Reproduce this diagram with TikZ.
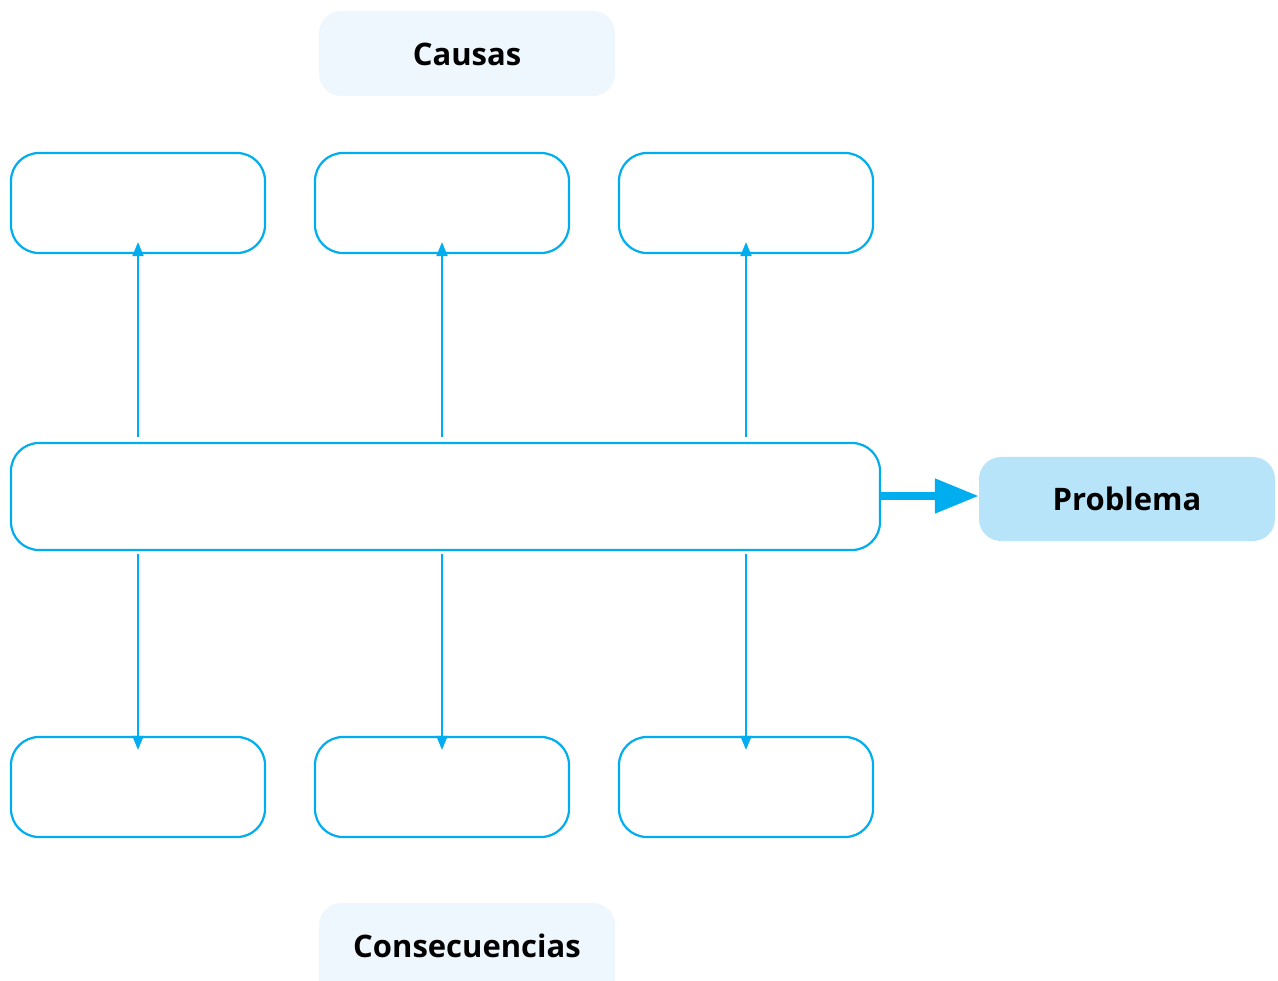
\documentclass[tikz,border=0pt]{standalone}
\usepackage{fontspec}
\setmainfont{Open Sans}
\usetikzlibrary{arrows.meta}
\definecolor{cline}{HTML}{00AEEF}
\definecolor{lightfill}{HTML}{EEF7FD}
\definecolor{probfill}{HTML}{B8E4F9}
\tikzset{
  x=1pt,y=-1pt,
  emptybox/.style={draw=cline,line width=2.2pt,rounded corners=28pt,fill=white},
  labelfont/.style={font=\fontsize{31}{36}\selectfont\bfseries},
  conn/.style={draw=cline,line width=2pt,-{Triangle[length=14pt,width=11pt]}},
}
\begin{document}
\begin{tikzpicture}
\useasboundingbox (0,0) rectangle (1278,981);
% label boxes
\fill[lightfill,rounded corners=22pt] (319,11) rectangle (615,96);
\node[labelfont] (causas) at (467,54) {Causas};
\begin{scope}
\clip (0,0) rectangle (1278,981);
\fill[lightfill,rounded corners=22pt] (319,903) rectangle (615,1005);
\end{scope}
\node[labelfont] (consec) at (467,946) {Consecuencias};
% top boxes
\node[emptybox,minimum width=254pt,minimum height=100pt] (t1) at (138,203) {};
\node[emptybox,minimum width=254pt,minimum height=100pt] (t2) at (442,203) {};
\node[emptybox,minimum width=254pt,minimum height=100pt] (t3) at (746,203) {};
% bottom boxes
\node[emptybox,minimum width=254pt,minimum height=100pt] (b1) at (138,787) {};
\node[emptybox,minimum width=254pt,minimum height=100pt] (b2) at (442,787) {};
\node[emptybox,minimum width=254pt,minimum height=100pt] (b3) at (746,787) {};
% central
\node[emptybox,minimum width=869pt,minimum height=107pt] (mid) at (445.5,496.5) {};
% problem
\node[fill=probfill,rounded corners=22pt,minimum width=296pt,minimum height=84pt,labelfont] (prob) at (1127,499) {Problema};
% connectors
\coordinate (m1t) at ([yshift=5pt]mid.north -| t1);
\coordinate (m2t) at ([yshift=5pt]mid.north -| t2);
\coordinate (m3t) at ([yshift=5pt]mid.north -| t3);
\coordinate (m1b) at ([yshift=-3pt]mid.south -| b1);
\coordinate (m2b) at ([yshift=-3pt]mid.south -| b2);
\coordinate (m3b) at ([yshift=-3pt]mid.south -| b3);
\draw[conn] (m1t) -- ([yshift=12pt]t1.south);
\draw[conn] (m2t) -- ([yshift=12pt]t2.south);
\draw[conn] (m3t) -- ([yshift=12pt]t3.south);
\draw[conn] (m1b) -- ([yshift=-14pt]b1.north);
\draw[conn] (m2b) -- ([yshift=-14pt]b2.north);
\draw[conn] (m3b) -- ([yshift=-14pt]b3.north);
\draw[draw=cline,line width=8pt,-{Triangle[length=44pt,width=33pt]}] (mid.east |- 0,496) -- (prob.west |- 0,496);
\end{tikzpicture}
\end{document}
